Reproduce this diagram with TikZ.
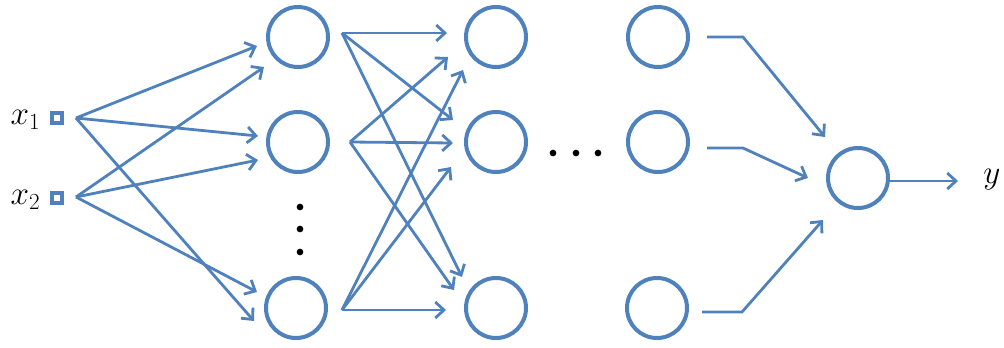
\documentclass[tikz,border=0pt]{standalone}
\usetikzlibrary{arrows.meta}
\definecolor{nnblue}{HTML}{4F81BD}
\begin{document}
\begin{tikzpicture}[x=0.75pt,y=-0.75pt,
  neuron/.style={circle,draw=nnblue,line width=3pt,minimum size=45pt,inner sep=0pt},
  inbox/.style={rectangle,draw=nnblue,line width=2.8pt,minimum size=7pt,inner sep=0pt},
  conn/.style={draw=nnblue,line width=2.1pt,-{Straight Barb[length=6.5pt,width=12pt,line width=2.1pt]}},
  lbl/.style={font=\fontsize{25}{28}\selectfont},
  dot/.style={circle,fill=black,inner sep=0pt,minimum size=5pt}]
\useasboundingbox (0,0) rectangle (1004,347);
% inputs
\node[inbox] (i1) at (57,118) {};
\node[inbox] (i2) at (57,198) {};
\node[lbl,anchor=east] (lx1) at (45,120) {$x_1$};
\node[lbl,anchor=east] (lx2) at (45,200) {$x_2$};
\coordinate (o1) at (76,118);
\coordinate (o2) at (76,197);
% layer 1
\node[neuron] (a1) at (298,37) {};
\node[neuron] (a2) at (298,142) {};
\node[neuron] (a3) at (296,308) {};
% layer 2
\node[neuron] (b1) at (496,37) {};
\node[neuron] (b2) at (496,142) {};
\node[neuron] (b3) at (496,308) {};
% layer 3
\node[neuron] (c1) at (658,37) {};
\node[neuron] (c2) at (658,142) {};
\node[neuron] (c3) at (657,308) {};
% output
\node[neuron] (d) at (858,178) {};
\node[lbl] (ly) at (992,180) {$y$};
% dots
\node[dot] (v1) at (300,207) {};
\node[dot] (v2) at (300,229) {};
\node[dot] (v3) at (300,252) {};
\node[dot] (h1) at (553,153) {};
\node[dot] (h2) at (576,153) {};
\node[dot] (h3) at (598,153) {};
% input -> layer 1
\coordinate (a1i1) at (257,46);
\coordinate (a1i2) at (264,67);
\coordinate (a2i1) at (258,136);
\coordinate (a2i2) at (258,160);
\coordinate (a3i1) at (254,321);
\coordinate (a3i2) at (257,292);
\draw[conn] (o1) -- (a1i1);
\draw[conn] (o1) -- (a2i1);
\draw[conn] (o1) -- (a3i1);
\draw[conn] (o2) -- (a1i2);
\draw[conn] (o2) -- (a2i2);
\draw[conn] (o2) -- (a3i2);
% layer 1 -> layer 2
\coordinate (a1o) at (342,33);
\coordinate (a2o) at (350,142);
\coordinate (a3o) at (342,310);
\draw[conn] (a1o) -- (447,33) coordinate (b1x);
\draw[conn] (a1o) -- (453,120) coordinate (b2x);
\draw[conn] (a1o) -- (462,277) coordinate (b3x);
\draw[conn] (a2o) -- (448,57) coordinate (b1y);
\draw[conn] (a2o) -- (453,143) coordinate (b2y);
\draw[conn] (a2o) -- (454,290) coordinate (b3y);
\draw[conn] (a3o) -- (463,70) coordinate (b1z);
\draw[conn] (a3o) -- (451,167) coordinate (b2z);
\draw[conn] (a3o) -- (446,310) coordinate (b3z);
% layer 3 -> output
\draw[conn] (707,37) coordinate (c1o) -- (743,37) -- (825,137) coordinate (d1);
\draw[conn] (707,148) coordinate (c2o) -- (743,148) -- (808,178) coordinate (d2);
\draw[conn] (702,312) coordinate (c3o) -- (742,312) -- (823,220) coordinate (d3);
\draw[conn] (d.east) ++(0,3) coordinate (do) -- (958,181) coordinate (yo);
\end{tikzpicture}
\end{document}
